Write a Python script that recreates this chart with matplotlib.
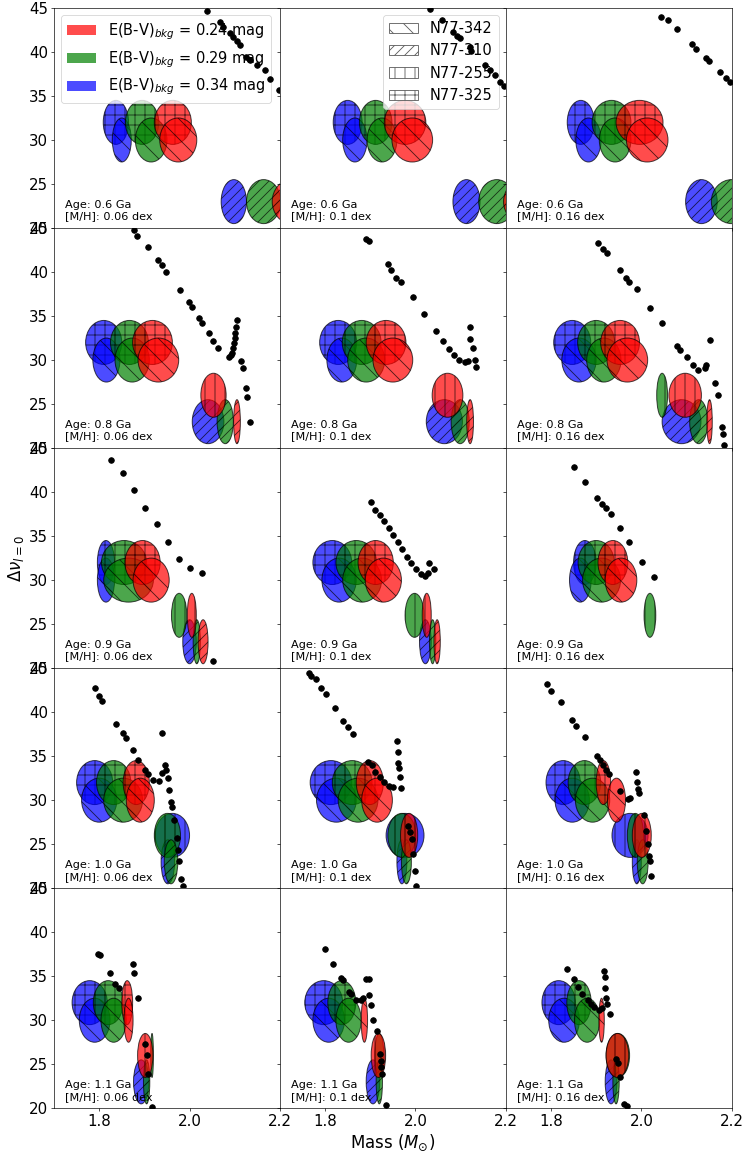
import numpy as np
import matplotlib.pyplot as plt
from matplotlib.patches import Ellipse, Patch

nan = np.nan

ages = ['0.6', '0.8', '0.9', '1.0', '1.1']
metals = ['0.06', '0.1', '0.16']
ebv = ['0.24', '0.29', '0.34']
ebv_colors = ['red', 'green', 'blue']

stars = ['N77-342', 'N77-310', 'N77-255', 'N77-325']
star_hatch = ['\\', '//', '|', '+']
dnu_star = [30.0, 23.0, 26.0, 32.0]
dnu_err = [2.5, 2.5, 2.5, 2.5]

# mass centre / half width per panel (row major), columns: E(B-V) 0.24, 0.29, 0.34
mass_342 = [[1.975, 1.915, 1.850], [1.993, 1.926, 1.866], [2.013, 1.942, 1.883],
            [1.931, 1.873, 1.816], [1.950, 1.891, 1.837], [1.969, 1.917, 1.862],
            [1.915, 1.865, 1.815], [1.929, 1.882, 1.831], [1.955, 1.912, 1.865],
            [1.891, 1.853, 1.800], [1.915, 1.873, 1.825], [1.945, 1.892, 1.847],
            [1.865, 1.832, 1.790], [1.887, 1.852, 1.808], [1.912, 1.880, 1.829]]
err_342 = [[0.041, 0.035, 0.021], [0.045, 0.033, 0.027], [0.046, 0.035, 0.028],
           [0.045, 0.038, 0.030], [0.044, 0.041, 0.033], [0.045, 0.038, 0.038],
           [0.040, 0.055, 0.019], [0.040, 0.043, 0.038], [0.035, 0.042, 0.024],
           [0.031, 0.043, 0.039], [0.034, 0.044, 0.044], [0.020, 0.038, 0.038],
           [0.010, 0.028, 0.034], [0.007, 0.028, 0.035], [0.006, 0.028, 0.034]]

mass_310 = [[2.225, 2.164, 2.098], [2.240, 2.180, 2.113], [2.270, 2.200, 2.133],
            [2.105, 2.079, 2.041], [2.121, 2.099, 2.064], [2.151, 2.127, 2.089],
            [2.030, 2.016, 2.000], [2.048, 2.038, 2.022], [nan, nan, nan],
            [nan, 1.959, 1.952], [nan, 1.980, 1.970], [nan, 2.003, 1.990],
            [nan, 1.905, 1.893], [nan, 1.920, 1.906], [nan, 1.944, 1.933]]
err_310 = [[0.042, 0.038, 0.028], [0.045, 0.040, 0.030], [0.050, 0.045, 0.035],
           [0.0075, 0.018, 0.035], [0.0075, 0.020, 0.040], [0.006, 0.020, 0.043],
           [0.011, 0.008, 0.015], [0.007, 0.007, 0.013], [nan, nan, nan],
           [nan, 0.015, 0.015], [nan, 0.011, 0.011], [nan, 0.012, 0.010],
           [nan, 0.007, 0.017], [nan, 0.007, 0.015], [nan, 0.007, 0.013]]

mass_255 = [[nan, nan, nan], [nan, nan, nan], [nan, nan, nan],
            [2.053, nan, nan], [2.071, nan, nan], [2.097, 2.046, nan],
            [2.005, 1.977, nan], [2.025, 1.998, nan], [nan, 2.019, nan],
            [nan, 1.951, 1.962], [1.986, 1.970, 1.977], [2.001, 1.987, 1.975],
            [1.902, 1.917, nan], [1.918, 1.920, nan], [1.947, 1.948, nan]]
err_255 = [[nan, nan, nan], [nan, nan, nan], [nan, nan, nan],
           [0.028, nan, nan], [0.034, nan, nan], [0.036, 0.012, nan],
           [0.010, 0.017, nan], [0.010, 0.021, nan], [nan, 0.013, nan],
           [nan, 0.029, 0.038], [0.019, 0.031, 0.042], [0.021, 0.018, 0.040],
           [0.017, 0.003, nan], [0.016, 0.010, nan], [0.025, 0.026, nan]]

mass_325 = [[1.963, 1.895, 1.837], [1.977, 1.912, 1.850], [1.996, 1.934, 1.866],
            [1.918, 1.867, 1.810], [1.935, 1.881, 1.829], [1.953, 1.900, 1.847],
            [1.896, 1.855, 1.815], [1.912, 1.869, 1.816], [1.937, 1.900, 1.875],
            [1.882, 1.832, 1.790], [1.899, 1.860, 1.813], [1.916, 1.874, 1.827],
            [1.862, 1.820, 1.779], [nan, 1.837, 1.797], [nan, 1.862, 1.817]]
err_325 = [[0.041, 0.037, 0.028], [0.046, 0.036, 0.032], [0.052, 0.043, 0.030],
           [0.044, 0.042, 0.040], [0.044, 0.043, 0.041], [0.043, 0.041, 0.041],
           [0.039, 0.050, 0.019], [0.039, 0.045, 0.043], [0.033, 0.040, 0.025],
           [0.029, 0.038, 0.040], [0.030, 0.044, 0.046], [0.016, 0.036, 0.038],
           [0.012, 0.033, 0.039], [nan, 0.031, 0.042], [nan, 0.027, 0.037]]

# isochrone points per panel (row major)
iso_mass = [
    [2.039, 2.068, 2.074, 2.09, 2.097, 2.105, 2.111, 2.124, 2.133, 2.149, 2.166, 2.177, 2.197],
    [2.033, 2.059, 2.083, 2.091, 2.098, 2.12, 2.124, 2.153, 2.165, 2.176, 2.187, 2.196],
    [2.044, 2.06, 2.08, 2.113, 2.122, 2.144, 2.149, 2.175, 2.188, 2.196],
    [1.876, 1.883, 1.908, 1.931, 1.939, 1.948, 1.979, 1.998, 2.005, 2.02, 2.027, 2.042, 2.053,
     2.064, 2.087, 2.091, 2.094, 2.096, 2.098, 2.1, 2.101, 2.103, 2.105, 2.114, 2.118, 2.126,
     2.127, 2.133],
    [1.891, 1.898, 1.939, 1.947, 1.956, 1.967, 1.994, 2.02, 2.046, 2.06, 2.074, 2.085, 2.096,
     2.109, 2.116, 2.12, 2.12, 2.128, 2.131, 2.133],
    [1.904, 1.916, 1.924, 1.953, 1.967, 1.972, 1.99, 2.02, 2.045, 2.08, 2.085, 2.1, 2.114,
     2.125, 2.14, 2.144, 2.151, 2.164, 2.17, 2.179, 2.181, 2.183],
    [1.826, 1.852, 1.877, 1.902, 1.927, 1.952, 1.977, 2.002, 2.027, 2.052],
    [1.901, 1.911, 1.921, 1.931, 1.941, 1.951, 1.961, 1.971, 1.981, 1.991, 2.002, 2.012, 2.021,
     2.027, 2.031, 2.042],
    [1.851, 1.876, 1.902, 1.912, 1.922, 1.932, 1.952, 1.972, 2.002, 2.027],
    [1.791, 1.799, 1.806, 1.837, 1.852, 1.859, 1.874, 1.887, 1.902, 1.908, 1.92, 1.932, 1.938,
     1.945, 1.94, 1.948, 1.952, 1.955, 1.959, 1.962, 1.965, 1.972, 1.975, 1.976, 1.98, 1.986],
    [1.764, 1.769, 1.781, 1.791, 1.801, 1.821, 1.839, 1.851, 1.861, 1.896, 1.904, 1.911, 1.921,
     1.931, 1.941, 1.951, 1.959, 1.961, 1.961, 1.963, 1.965, 1.969, 1.984, 1.987, 1.992, 1.994,
     1.998, 2.002],
    [1.791, 1.801, 1.822, 1.847, 1.855, 1.875, 1.902, 1.908, 1.915, 1.922, 1.928, 1.952, 1.97,
     1.975, 1.988, 1.99, 1.992, 1.995, 2.005, 2.01, 2.015, 2.018, 2.02, 2.022],
    [1.797, 1.802, 1.823, 1.835, 1.843, 1.874, 1.876, 1.885, 1.902, 1.906, 1.909, 1.918],
    [1.799, 1.817, 1.836, 1.839, 1.854, 1.858, 1.869, 1.88, 1.885, 1.891, 1.897, 1.898, 1.902,
     1.906, 1.915, 1.921, 1.924, 1.924, 1.927, 1.934],
    [1.835, 1.85, 1.859, 1.869, 1.881, 1.889, 1.896, 1.906, 1.913, 1.918, 1.919, 1.919, 1.921,
     1.924, 1.93, 1.944, 1.948, 1.952, 1.961, 1.968],
]
iso_dnu = [
    [44.62, 43.41, 42.8, 42.2, 41.74, 41.29, 40.83, 39.47, 39.09, 38.49, 37.95, 36.97, 35.68],
    [44.85, 43.64, 42.31, 41.82, 41.55, 40.6, 40.15, 38.52, 37.95, 37.39, 36.63, 36.14],
    [44.01, 43.64, 42.58, 40.87, 40.3, 39.28, 38.98, 37.77, 37.01, 36.63],
    [44.77, 44.09, 42.88, 41.36, 40.8, 39.96, 37.95, 36.55, 35.98, 34.73, 34.17, 33.03, 32.2,
     31.4, 30.38, 30.6, 30.83, 31.4, 31.89, 32.5, 33.03, 33.8, 34.55, 29.92, 29.05, 26.78,
     25.83, 22.99],
    [43.75, 43.52, 40.87, 40.23, 39.35, 38.83, 37.12, 35.19, 33.3, 32.16, 31.25, 30.57, 30.0,
     29.74, 29.89, 32.39, 33.78, 31.33, 30.0, 29.24],
    [43.33, 42.58, 42.12, 40.23, 39.28, 38.9, 38.03, 35.87, 34.17, 31.59, 31.14, 30.3, 29.43,
     28.86, 29.05, 29.43, 32.27, 27.42, 26.02, 22.35, 21.59, 20.34],
    [43.67, 42.19, 40.23, 38.15, 36.36, 34.35, 32.39, 31.33, 30.83, 20.83],
    [38.83, 37.95, 37.39, 36.7, 35.87, 35.11, 34.28, 33.52, 32.65, 31.89, 31.25, 30.64, 30.49,
     30.76, 32.0, 31.25],
    [42.8, 41.1, 39.36, 38.67, 38.15, 37.47, 35.95, 34.35, 32.08, 30.3],
    [42.69, 41.82, 41.29, 38.64, 37.61, 37.08, 35.72, 34.62, 33.48, 33.03, 32.27, 32.16, 33.1,
     34.05, 37.61, 33.41, 32.54, 31.1, 29.81, 29.24, 27.73, 25.65, 24.32, 23.07, 21.1, 20.23],
    [44.4, 44.13, 43.75, 42.77, 42.05, 40.42, 38.98, 38.33, 37.47, 34.35, 33.98, 33.22, 32.65,
     32.01, 31.63, 31.52, 36.7, 35.42, 34.17, 33.6, 32.65, 31.33, 27.08, 26.4, 25.57, 23.94,
     21.93, 20.27],
    [43.15, 42.42, 41.1, 39.09, 38.41, 37.2, 35.04, 34.55, 33.98, 33.41, 32.92, 31.02, 30.11,
     30.27, 33.15, 32.08, 31.25, 30.76, 28.3, 26.48, 24.97, 23.67, 23.07, 21.4],
    [37.58, 37.39, 35.42, 34.17, 33.71, 36.44, 35.38, 32.47, 27.27, 26.02, 23.86, 20.15],
    [38.07, 36.44, 34.85, 34.55, 33.22, 32.95, 32.35, 32.27, 32.58, 34.74, 34.74, 32.84, 31.7,
     30.0, 28.75, 26.14, 25.38, 24.7, 23.86, 20.34],
    [35.83, 34.7, 33.79, 32.95, 32.27, 31.89, 31.52, 31.14, 31.44, 35.6, 34.92, 33.71, 32.47,
     31.89, 30.68, 25.64, 25.15, 23.56, 20.53, 20.23],
]

star_mass = [mass_342, mass_310, mass_255, mass_325]
star_err = [err_342, err_310, err_255, err_325]
draw_order = [3, 0, 2, 1]

fig, axes = plt.subplots(5, 3, figsize=(748 / 60, 1153 / 60), dpi=60, sharex=True, sharey=True)
fig.subplots_adjust(left=0.0722, right=0.9782, bottom=0.0388, top=0.9931, hspace=0, wspace=0)

for i in range(5):
    for j in range(3):
        ax = axes[i, j]
        k = i * 3 + j
        # blue drawn first, red last
        for c in [2, 1, 0]:
            for s in draw_order:
                m = star_mass[s][k][c]
                w = star_err[s][k][c]
                if np.isnan(m):
                    continue
                e = Ellipse((m, dnu_star[s]), 2 * w, 2 * dnu_err[s], facecolor=ebv_colors[c],
                            edgecolor='k', alpha=0.7, hatch=star_hatch[s], lw=1.2)
                ax.add_patch(e)
        ax.scatter(iso_mass[k], iso_dnu[k], s=45, color='k', zorder=10)
        ax.text(0.05, 0.03, 'Age: %s Ga\n[M/H]: %s dex' % (ages[i], metals[j]),
                transform=ax.transAxes, fontsize=13.5, va='bottom', ha='left')
        ax.set_xlim(1.7, 2.2)
        ax.set_ylim(20, 45)
        ax.set_xticks([1.8, 2.0, 2.2])
        ax.set_yticks([20, 25, 30, 35, 40, 45])
        ax.tick_params(labelsize=18)
        ax.label_outer()

col_handles = [Patch(facecolor=ebv_colors[c], alpha=0.7,
                     label=r'E(B-V)$_{bkg}$ = %s mag' % ebv[c]) for c in range(3)]
axes[0, 0].legend(handles=col_handles, loc='upper left', fontsize=17.5)

hatch_handles = [Patch(facecolor='white', edgecolor='0.35', hatch=star_hatch[s], label=stars[s])
                 for s in range(4)]
axes[0, 1].legend(handles=hatch_handles, loc='upper right', fontsize=17.5)

axes[2, 0].set_ylabel(r'$\Delta\nu_{l=0}$', fontsize=20)
axes[4, 1].set_xlabel(r'Mass ($M_{\odot}$)', fontsize=20)

fig.savefig('out.png', dpi=60)
